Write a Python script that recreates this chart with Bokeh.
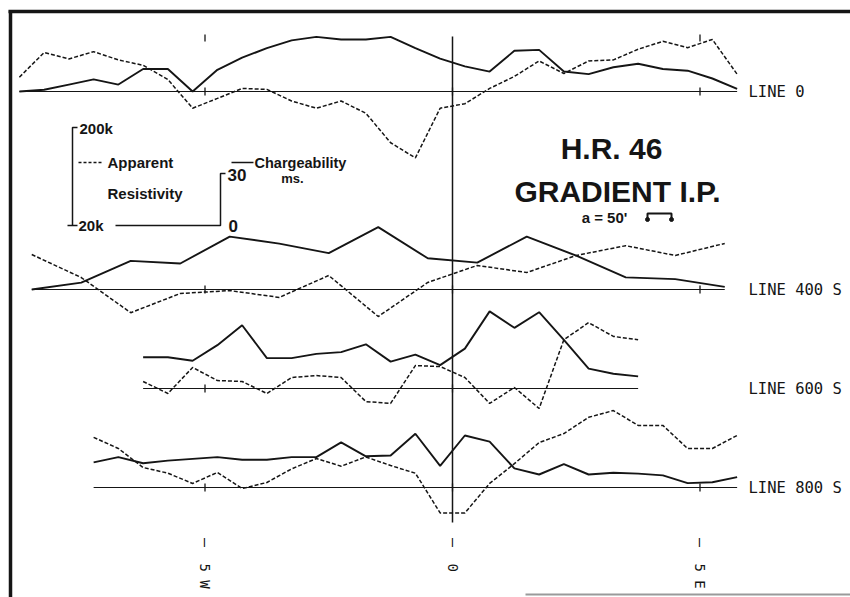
import numpy as np
from bokeh.plotting import figure
from bokeh.models import Range1d
from bokeh.core.properties import value
from bokeh.embed import file_html
from bokeh.resources import INLINE

# ---------------- DATA ----------------
# stations in hundreds of feet along each line (negative = West, positive = East)
def stations(first, last, step=0.5):
    return list(np.arange(first, last + step / 2, step))

line0_stations = stations(-8.75, 5.75)
line0_charge = [0, 1, 4, 7, 4, 13, 13, 0, 12.5, 19.5, 25, 29.5, 31.5, 30, 30,
                31.5, 25, 19, 14.5, 11.5, 23.5, 24, 11.5, 10, 14, 16, 13, 12, 7.5, 1.5]
line0_res = [28, 50, 43, 51, 42, 37, 26.5, 13.5, 17, 21.5, 21, 16, 13.5, 16, 12,
             6, 4.2, 13.5, 15, 21.5, 28.5, 41, 30.5, 41, 42, 54, 65, 56, 68, 30]

line400_stations = stations(-8.5, 5.5, 1.0)
line400_charge = [0, 4, 16.5, 15, 30.5, 26.5, 21, 36, 18, 15.5, 30.5, 19.5, 7, 6, 1.5]
line400_res = [45.5, 26.5, 11.6, 18.2, 19.5, 16.6, 27.8, 10.6, 23.6, 35.2, 29.8,
               44.5, 56, 44.5, 59]

line600_stations = stations(-6.25, 3.75)
line600_charge = [18, 18, 16, 25, 36.5, 17.5, 17.5, 20, 21, 25.5, 15.5, 19.5, 13.5,
                  23, 44.5, 35, 44, 28, 11.5, 8.5, 7]
line600_res = [23.6, 17.8, 32.8, 24.1, 23.6, 17.8, 25.9, 27.1, 25.9, 14.7, 14.1,
               34.3, 33.5, 25.9, 14.1, 20.5, 12.5, 63, 94, 68, 63]

line800_stations = stations(-7.25, 5.75)
line800_charge = [14.5, 17.5, 14, 15.5, 16.5, 17.5, 16, 16, 17.5, 17.5, 26, 18, 18.5,
                  31, 12.5, 30, 26.5, 11, 7.5, 13.5, 7.5, 8.5, 8, 7, 2.5, 3, 6]
line800_res = [65, 50, 32, 28, 22, 28.5, 19.5, 22.5, 31, 39.5, 33, 41, 33.5, 28,
               11, 11, 22, 35, 57.5, 71, 104, 122, 86, 86, 50, 50, 68]

line_names = ["LINE 0", "LINE 400 S", "LINE 600 S", "LINE 800 S"]
tick_positions = [-5, 0, 5]
tick_labels = ["5 W", "0", "5 E"]

# ---------------- LAYOUT / SCALES ----------------
W, H = 850, 597
X0_PX, PX_PER_UNIT = 452.0, 49.5          # station 0 position, px per 100 ft
PX_PER_MS = 52.0 / 30.0                   # chargeability scale (30 ms)
PX_PER_DECADE = 98.0                      # resistivity log scale (20k -> 200k)
RES_REF = 20.0                            # resistivity at the profile base line (k)

def X(px):
    return (px - X0_PX) / PX_PER_UNIT

def Y(py):
    return H - py

base_py = [91, 289, 388, 487]
profiles = [
    (line0_stations, line0_charge, line0_res),
    (line400_stations, line400_charge, line400_res),
    (line600_stations, line600_charge, line600_res),
    (line800_stations, line800_charge, line800_res),
]

INK = "#151515"
FONT = value("Liberation Sans")
MONO = value("DejaVu Sans Mono")

p = figure(width=W, height=H, x_range=Range1d(X(0), X(W)), y_range=Range1d(0, H),
           output_backend="svg", toolbar_location=None,
           x_axis_location=None, y_axis_location=None, min_border=0)
p.grid.visible = False
p.outline_line_color = None
p.background_fill_color = "white"
p.border_fill_color = "white"

# frame lines of the scanned sheet
p.segment(x0=[X(8), X(10)], y0=[Y(11), Y(10)], x1=[X(W), X(10)], y1=[Y(11), Y(H)],
          line_color=INK, line_width=3.5)
p.segment(x0=[X(525)], y0=[Y(594)], x1=[X(W)], y1=[Y(594)], line_color="#9a9a9a", line_width=2)

# zero (station 0) line and top station marks
p.segment(x0=[0], y0=[Y(522)], x1=[0], y1=[Y(36)], line_color=INK, line_width=1.5)
p.segment(x0=[-5, 5], y0=[Y(41), Y(41)], x1=[-5, 5], y1=[Y(34), Y(34)],
          line_color=INK, line_width=1.3)

for (st, chg, res), bpy, name in zip(profiles, base_py, line_names):
    st = np.array(st, dtype=float)
    base = Y(bpy)
    # base line
    p.line([st[0], st[-1]], [base, base], line_color=INK, line_width=1.2)
    # station ticks on base line
    tx = [t for t in tick_positions if st[0] <= t <= st[-1]]
    p.segment(x0=tx, y0=[base - 4] * len(tx), x1=tx, y1=[base + 4] * len(tx),
              line_color=INK, line_width=1.3)
    # chargeability (solid)
    ych = base + PX_PER_MS * np.array(chg, dtype=float)
    p.line(st, ych, line_color=INK, line_width=1.9)
    # apparent resistivity (dashed, log)
    yrs = base + PX_PER_DECADE * np.log10(np.array(res, dtype=float) / RES_REF)
    p.line(st, yrs, line_color=INK, line_width=1.5, line_dash="4 2")
    # label
    p.text(x=[X(748)], y=[base], text=[name], text_font=MONO, text_font_size="15.5px",
           text_baseline="middle", text_align="left", text_color=INK)

# bottom station labels (rotated)
p.text(x=tick_positions, y=[Y(542)] * 3, text=["\u2014"] * 3, angle=-np.pi / 2,
       text_font=MONO, text_font_size="15px", text_align="center",
       text_baseline="middle", text_color=INK)
p.text(x=tick_positions, y=[Y(563)] * 3, text=tick_labels, angle=-np.pi / 2,
       text_font=MONO, text_font_size="14px", text_align="left",
       text_baseline="middle", text_color=INK)

# ---------------- legend / scale key ----------------
leg_x = X(72)
leg_base = Y(225)
leg_top = leg_base + PX_PER_DECADE           # 200k
p.line([X(77), leg_x, leg_x], [leg_top, leg_top, leg_base], line_color=INK, line_width=1.5)
p.segment(x0=[X(67)], y0=[leg_base], x1=[X(77)], y1=[leg_base], line_color=INK, line_width=1.5)
ch_x = X(220)
ch_top = leg_base + PX_PER_MS * 30           # 30 ms
p.line([X(115), ch_x, ch_x, X(225)], [leg_base, leg_base, ch_top, ch_top],
       line_color=INK, line_width=1.5)
p.line([X(78), X(103)], [Y(162), Y(162)], line_color=INK, line_width=1.5, line_dash="3 2")
p.line([X(231), X(253)], [Y(162), Y(162)], line_color=INK, line_width=1.5)

def label(px, py, txt, size, align="left", font=FONT, style="bold"):
    p.text(x=[X(px)], y=[Y(py)], text=[txt], text_font=font, text_font_size=size,
           text_font_style=style, text_align=align, text_baseline="middle", text_color=INK)

label(79, 128, "200k", "15px")
label(107, 162, "Apparent", "15px")
label(107, 193, "Resistivity", "15px")
label(78, 225, "20k", "15px")
label(254, 162, "Chargeability", "14.5px")
label(227, 174, "30", "17px")
label(292, 178, "ms.", "13px", align="center")
label(228, 225, "0", "17px")

label(611, 148, "H.R. 46", "30px", align="center")
label(617, 191, "GRADIENT I.P.", "30px", align="center")
label(604, 217, "a = 50'", "15px", align="center")
# electrode-pair symbol
p.line([X(647), X(647), X(671), X(671)], [Y(219), Y(213), Y(213), Y(219)],
       line_color=INK, line_width=2)
p.scatter(x=[X(647), X(671)], y=[Y(219), Y(219)], size=4, color=INK)

open("out.html", "w").write(file_html(p, INLINE))
